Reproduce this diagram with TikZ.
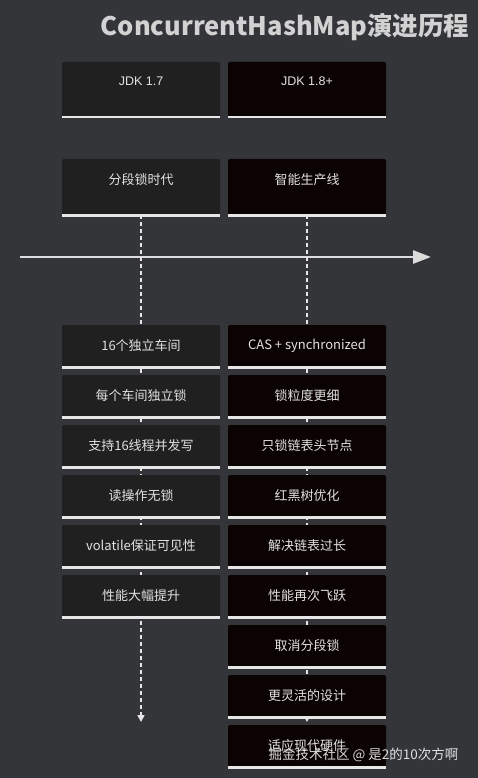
\documentclass[tikz,border=0pt]{standalone}
\usepackage{fontspec}
\setmainfont{Noto Sans CJK SC}
\newfontfamily\jdkfont{Liberation Sans}
\usetikzlibrary{arrows.meta,positioning}
\definecolor{sfondo}{HTML}{333539}
\definecolor{boxL}{HTML}{202020}
\definecolor{boxR}{HTML}{0B0202}
\definecolor{testo}{HTML}{E2E2E2}
\definecolor{linea}{HTML}{E6E6E6}
\definecolor{titolo}{HTML}{D2D2D2}

\begin{document}
\begin{tikzpicture}[x=1pt,y=-1pt,>=Triangle,font=\fontsize{13}{15}\selectfont]
  \tikzset{
    hdr/.style={inner xsep=0pt,inner ysep=0pt,minimum width=158pt,text height=24pt,text depth=31pt,text=testo,rounded corners=2pt},
    taskbox/.style={inner sep=0pt,minimum width=158pt,minimum height=42pt,text=testo,rounded corners=2pt},
    base/.style={linea,line width=2.6pt},
    tratt/.style={linea,line width=1.6pt,dash pattern=on 4pt off 3pt,-{Triangle[width=7pt,length=7pt]}},
    asse/.style={linea!90!gray,line width=2.8pt,-{Triangle[width=13pt,length=18pt]}}
  }
  \useasboundingbox[fill=sfondo] (0,0) rectangle (478,778);
  % titolo
  \node[anchor=east,text=titolo,font=\bfseries\fontsize{25.5}{28}\selectfont] (tit) at (473,27) {ConcurrentHashMap演进历程};
  % intestazioni e sezioni
  \node[hdr,fill=boxL,font=\jdkfont\fontsize{12.5}{14}\selectfont] (h17) at (141,89.5) {JDK 1.7};
  \node[hdr,fill=boxR,font=\jdkfont\fontsize{12.5}{14}\selectfont] (h18) at (307,89.5) {JDK 1.8+};
  \node[hdr,fill=boxL,text height=25pt] (sL) at (141,187) {分段锁时代};
  \node[hdr,fill=boxR,text height=25pt] (sR) at (307,187) {智能生产线};
  % linee tratteggiate verso il basso
  \coordinate (fineL) at (141,722);
  \coordinate (fineR) at (307,722);
  \draw[tratt] (sL.south) -- (fineL);
  \draw[tratt] (sR.south) -- (fineR);
  % asse del tempo
  \coordinate (t0) at (20,257);
  \coordinate (t1) at (431,257);
  \draw[asse] (t0) -- (t1);
  % attivita JDK 1.7
  \foreach \t [count=\i] in {16个独立车间,每个车间独立锁,支持16线程并发写,读操作无锁,volatile保证可见性,性能大幅提升}
    \node[taskbox,fill=boxL] (l\i) at (141,{346+50*(\i-1)}) {\t};
  % attivita JDK 1.8+
  \foreach \t [count=\i] in {CAS + synchronized,锁粒度更细,只锁链表头节点,红黑树优化,解决链表过长,性能再次飞跃,取消分段锁,更灵活的设计,适应现代硬件}
    \node[taskbox,fill=boxR] (r\i) at (307,{346+50*(\i-1)}) {\t};
  % bordi inferiori
  \foreach \n in {h17,h18,sL,sR,l1,l2,l3,l4,l5,l6,r1,r2,r3,r4,r5,r6,r7,r8,r9}
    \draw[base] (\n.south west) -- (\n.south east);
  % firma
  \node[anchor=east,text=white,opacity=0.85,font=\fontsize{13.5}{15}\selectfont] (firma) at (462,755) {掘金技术社区 @ 是2的10次方啊};
\end{tikzpicture}
\end{document}
